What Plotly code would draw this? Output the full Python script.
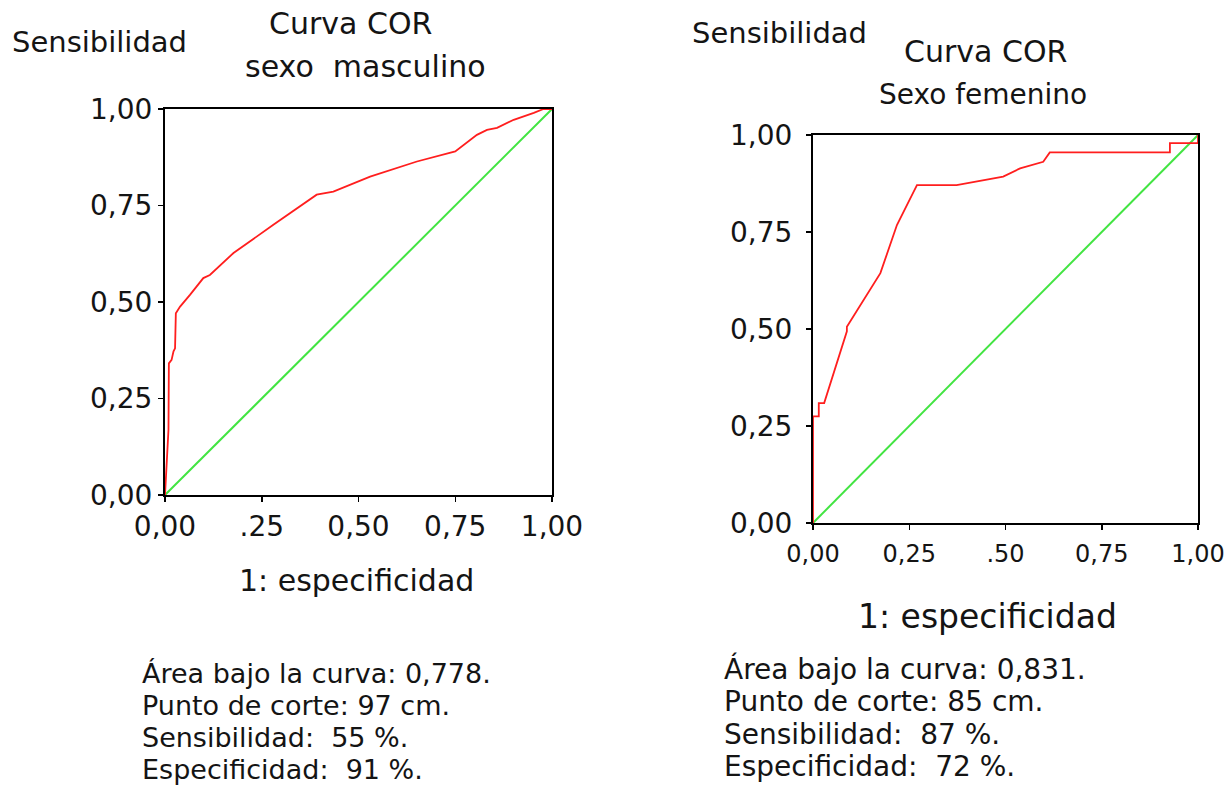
import plotly.graph_objects as go

# ---- data ----
masc_fpr = [0.0, 0.004, 0.009, 0.010, 0.017, 0.022, 0.026, 0.028, 0.039, 0.065, 0.099, 0.116,
            0.177, 0.280, 0.392, 0.435, 0.530, 0.651, 0.750, 0.806, 0.832, 0.858, 0.901, 0.953, 0.978, 1.0]
masc_tpr = [0.0, 0.082, 0.169, 0.341, 0.350, 0.372, 0.380, 0.471, 0.488, 0.519, 0.562, 0.570,
            0.627, 0.700, 0.778, 0.786, 0.825, 0.864, 0.890, 0.933, 0.946, 0.951, 0.972, 0.990, 1.0, 1.0]

fem_fpr = [0.0, 0.0, 0.015, 0.015, 0.029, 0.088, 0.088, 0.175, 0.218, 0.270, 0.373, 0.494,
           0.538, 0.598, 0.615, 0.927, 0.927, 1.0, 1.0]
fem_tpr = [0.0, 0.275, 0.275, 0.309, 0.309, 0.494, 0.506, 0.644, 0.768, 0.871, 0.871, 0.893,
           0.914, 0.931, 0.955, 0.955, 0.979, 0.979, 1.0]

ref_line = [0.0, 1.0]

tick_vals = [0, 0.25, 0.5, 0.75, 1.0]
y_tick_text = ["0,00", "0,25", "0,50", "0,75", "1,00"]
x_tick_text_masc = ["0,00", ".25", "0,50", "0,75", "1,00"]
x_tick_text_fem = ["0,00", "0,25", ".50", "0,75", "1,00"]

masc_stats = ["Área bajo la curva: 0,778.", "Punto de corte: 97 cm.",
              "Sensibilidad:  55 %.", "Especificidad:  91 %."]
fem_stats = ["Área bajo la curva: 0,831.", "Punto de corte: 85 cm.",
             "Sensibilidad:  87 %.", "Especificidad:  72 %."]

W, H = 1230, 785
FONT = "DejaVu Sans"
TXT = "#141414"
RED = "#FF1E1E"
GREEN = "#42E442"


def px(x):
    return x / W


def py(y):
    return 1 - y / H


fig = go.Figure()

# left chart
fig.add_trace(go.Scatter(x=ref_line, y=ref_line, mode="lines", line=dict(color=GREEN, width=2),
                         xaxis="x", yaxis="y", showlegend=False, hoverinfo="skip"))
fig.add_trace(go.Scatter(x=masc_fpr, y=masc_tpr, mode="lines", line=dict(color=RED, width=1.8),
                         xaxis="x", yaxis="y", showlegend=False))
# right chart
fig.add_trace(go.Scatter(x=ref_line, y=ref_line, mode="lines", line=dict(color=GREEN, width=2),
                         xaxis="x2", yaxis="y2", showlegend=False, hoverinfo="skip"))
fig.add_trace(go.Scatter(x=fem_fpr, y=fem_tpr, mode="lines", line=dict(color=RED, width=1.8),
                         xaxis="x2", yaxis="y2", showlegend=False))

axis_common = dict(range=[0, 1], showgrid=False, zeroline=False, showline=True, linecolor="black",
                   linewidth=2, mirror=True, ticks="outside", ticklen=5, tickwidth=1.5,
                   tickcolor="black", tickvals=tick_vals, automargin=False,
                   ticklabeloverflow="allow",
                   tickfont=dict(family=FONT, size=28, color=TXT), fixedrange=True)

fig.update_layout(
    template="none",
    width=W, height=H, autosize=False,
    margin=dict(l=0, r=0, t=0, b=0, pad=0),
    paper_bgcolor="white", plot_bgcolor="white",
    xaxis=dict(axis_common, domain=[px(165), px(552)], anchor="y", ticktext=x_tick_text_masc),
    yaxis=dict(axis_common, domain=[py(495), py(109)], anchor="x", ticktext=y_tick_text,
               ticklabelstandoff=0),
    xaxis2=dict(axis_common, domain=[px(813), px(1198)], anchor="y2", ticktext=x_tick_text_fem,
                tickfont=dict(family=FONT, size=24, color=TXT), ticklabelstandoff=3),
    yaxis2=dict(axis_common, domain=[py(523), py(135)], anchor="x2", ticktext=y_tick_text,
                ticklabelstandoff=8),
)

annotations = []


def add_text(text, x, y, size, anchor="center"):
    annotations.append(dict(text=text, x=px(x), y=py(y), xref="paper", yref="paper",
                            xanchor=anchor, yanchor="middle", showarrow=False,
                            font=dict(family=FONT, size=size, color=TXT)))


# left titles
add_text("Sensibilidad", 10, 42, 29, "left")
add_text("Curva COR", 350, 24, 30)
add_text("sexo  masculino", 365, 67, 30)
add_text("1: especificidad", 356, 580, 30)
# right titles
add_text("Sensibilidad", 690, 33, 29, "left")
add_text("Curva COR", 985, 52, 30)
add_text("Sexo femenino", 983, 95, 28)
add_text("1: especificidad", 987, 616, 33)

# stats
for i, line in enumerate(masc_stats):
    add_text(line, 140, 673 + i * 32, 27, "left")
for i, line in enumerate(fem_stats):
    add_text(line, 722, 669 + i * 32.5, 28, "left")

fig.update_layout(annotations=annotations)

fig.write_html("out.html", config={"displayModeBar": False, "staticPlot": True},
               post_script="document.body.style.margin='0';document.body.style.overflow='hidden';")
